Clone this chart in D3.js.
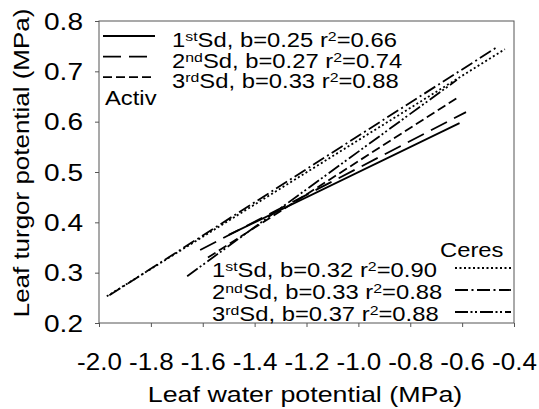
<!DOCTYPE html>
<html>
<head>
<meta charset="utf-8">
<script src="https://cdn.jsdelivr.net/npm/d3@7"></script>
<style>
  body { margin: 0; background: #fff; }
  svg { display: block; font-family: "Liberation Sans", Arial, sans-serif; }
</style>
</head>
<body>
<div id="chart"></div>
<script>
const width = 539;
const height = 409;
const margin = { top: 21, right: 25, bottom: 86, left: 99 };

// axis ticks
const xTicks = [-2.0, -1.8, -1.6, -1.4, -1.2, -1.0, -0.8, -0.6, -0.4];
const yTicks = [0.2, 0.3, 0.4, 0.5, 0.6, 0.7, 0.8];

// regression lines per sowing date
const seasons = ["1st", "2nd", "3rd"];
const sups = ["st", "nd", "rd"];
const activB = [0.25, 0.27, 0.33];
const activR2 = [0.66, 0.74, 0.88];
const activX = [[-1.50, -0.61], [-1.61, -0.585], [-1.58, -0.62]];
const activY = [[0.375, 0.597], [0.345, 0.619], [0.33, 0.647]];
const ceresB = [0.32, 0.33, 0.37];
const ceresR2 = [0.90, 0.88, 0.88];
const ceresX = [[-1.97, -0.435], [-1.96, -0.466], [-1.66, -0.62]];
const ceresY = [[0.253, 0.744], [0.255, 0.748], [0.293, 0.683]];

const activDash = [null, "18,8", "9,4"];
const ceresDash = ["2,2.5", "13,3.5,2,3.5", "13,2.5,2,2.5,2,3"];

const sx = 1.22; // the original font is drawn wide

const svg = d3.select("#chart").append("svg")
  .attr("width", width)
  .attr("height", height);

const x = d3.scaleLinear()
  .domain([-2.0, -0.4])
  .range([margin.left, width - margin.right]);

const y = d3.scaleLinear()
  .domain([0.2, 0.8])
  .range([height - margin.bottom, margin.top]);

// axes
const xAxis = svg.append("g")
  .attr("transform", `translate(0, ${y(0.2)})`)
  .call(d3.axisBottom(x).tickValues(xTicks).tickSize(4).tickSizeOuter(0)
    .tickFormat(d => d.toFixed(1)));
xAxis.select(".domain").remove();
xAxis.selectAll("line").attr("stroke", "#555");
xAxis.selectAll("text")
  .attr("y", null).attr("dy", null)
  .attr("fill", "#000")
  .attr("font-size", 23)
  .attr("font-family", "Liberation Sans, Arial, sans-serif")
  .attr("transform", `translate(0, 47) scale(1.13, 1)`);

const yAxis = svg.append("g")
  .attr("transform", `translate(${x(-2.0)}, 0)`)
  .call(d3.axisLeft(y).tickValues(yTicks).tickSize(4).tickSizeOuter(0)
    .tickFormat(d => d.toFixed(1)));
yAxis.select(".domain").remove();
yAxis.selectAll("line").attr("stroke", "#555");
yAxis.selectAll("text")
  .attr("x", null).attr("dy", "0.35em")
  .attr("fill", "#000")
  .attr("font-size", 23)
  .attr("font-family", "Liberation Sans, Arial, sans-serif")
  .attr("transform", `translate(-16, 0) scale(${sx}, 1)`);

// frame
svg.append("rect")
  .attr("x", x(-2.0))
  .attr("y", y(0.8))
  .attr("width", x(-0.4) - x(-2.0))
  .attr("height", y(0.2) - y(0.8))
  .attr("fill", "none")
  .attr("stroke", "#555")
  .attr("stroke-width", 1);

// axis titles
svg.append("text")
  .attr("text-anchor", "middle")
  .attr("font-size", 22)
  .attr("transform", `translate(305, 402) scale(${sx}, 1)`)
  .text("Leaf water potential (MPa)");

svg.append("text")
  .attr("text-anchor", "middle")
  .attr("font-size", 22)
  .attr("transform", `translate(29, 163) rotate(-90) scale(1.18, 1)`)
  .text("Leaf turgor potential (MPa)");

// fitted lines
const line = d3.line().x(d => x(d[0])).y(d => y(d[1]));

function drawLines(xs, ys, dashes) {
  xs.forEach((xx, i) => {
    svg.append("path")
      .datum([[xx[0], ys[i][0]], [xx[1], ys[i][1]]])
      .attr("d", line)
      .attr("fill", "none")
      .attr("stroke", "#000")
      .attr("stroke-width", 1.8)
      .attr("stroke-dasharray", dashes[i]);
  });
}
drawLines(activX, activY, activDash);
drawLines(ceresX, ceresY, ceresDash);

// legends
function legendText(tx, ty, i, b, r2) {
  const t = svg.append("text")
    .attr("font-size", 19.5)
    .attr("transform", `translate(${tx}, ${ty}) scale(${sx}, 1)`);
  t.append("tspan").text(seasons[i].replace(sups[i], ""));
  t.append("tspan").attr("font-size", 13).attr("dy", -6).text(sups[i]);
  t.append("tspan").attr("dy", 6).text(`Sd, b=${b.toFixed(2)} r`);
  t.append("tspan").attr("font-size", 13).attr("dy", -6).text("2");
  t.append("tspan").attr("dy", 6).text(`=${r2.toFixed(2)}`);
}

function legendLine(x0, x1, ly, dash) {
  svg.append("line")
    .attr("x1", x0).attr("x2", x1)
    .attr("y1", ly).attr("y2", ly)
    .attr("stroke", "#000")
    .attr("stroke-width", 1.8)
    .attr("stroke-dasharray", dash);
}

seasons.forEach((s, i) => {
  const ly = 36 + i * 20.6;
  legendLine(103, 155, ly, activDash[i]);
  legendText(172, ly + 11, i, activB[i], activR2[i]);
});
svg.append("text")
  .attr("font-size", 19.5)
  .attr("transform", `translate(105, 105) scale(${sx}, 1)`)
  .text("Activ");

seasons.forEach((s, i) => {
  const ly = 268 + i * 22;
  legendLine(455, 511, ly, ceresDash[i]);
  legendText(212, ly + 8.5, i, ceresB[i], ceresR2[i]);
});
svg.append("text")
  .attr("font-size", 19.5)
  .attr("transform", `translate(440, 257) scale(${sx}, 1)`)
  .text("Ceres");
</script>
</body>
</html>
